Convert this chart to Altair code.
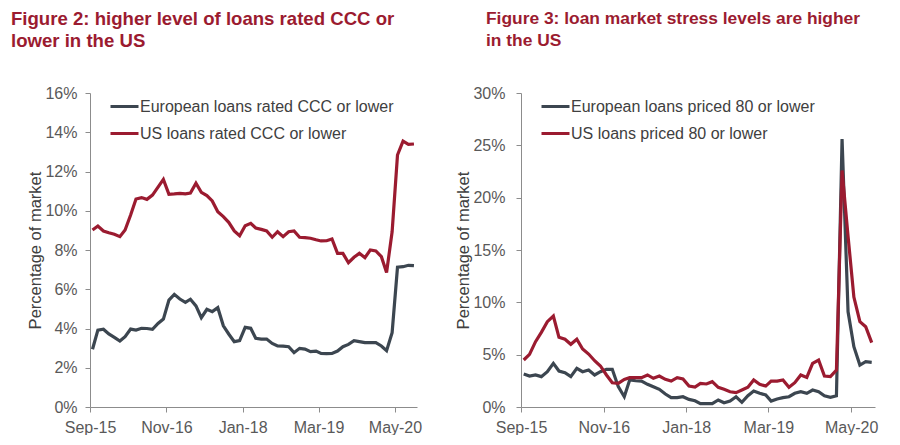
import altair as alt
import pandas as pd

RED = "#9B1B30"
GRAY = "#3C4650"
FONT = "Liberation Sans"

# monthly observations, Sep-2015 .. Aug-2020 (plotted mid-month)
months = [f"{2015 + (8 + k) // 12}-{(8 + k) % 12 + 1:02d}-15" for k in range(60)]

eu_ccc = [2.94, 3.92, 3.96, 3.72, 3.55, 3.36, 3.58, 3.97, 3.92, 4.01,
          4.00, 3.96, 4.26, 4.48, 5.45, 5.74, 5.50, 5.33, 5.49, 5.15,
          4.55, 4.98, 4.86, 5.06, 4.14, 3.72, 3.33, 3.38, 4.06, 4.01,
          3.50, 3.46, 3.46, 3.24, 3.11, 3.10, 3.07, 2.77, 2.99, 2.95,
          2.82, 2.85, 2.73, 2.72, 2.73, 2.85, 3.07, 3.19, 3.38, 3.33,
          3.28, 3.28, 3.28, 3.11, 2.87, 3.79, 7.12, 7.15, 7.22, 7.20]

us_ccc = [9.02, 9.22, 8.97, 8.88, 8.80, 8.68, 9.02, 9.78, 10.60, 10.67,
          10.58, 10.80, 11.20, 11.60, 10.84, 10.86, 10.89, 10.86, 10.90, 11.40,
          10.94, 10.77, 10.50, 9.95, 9.70, 9.41, 8.97, 8.73, 9.24, 9.36,
          9.12, 9.05, 8.97, 8.65, 8.93, 8.68, 8.93, 8.97, 8.65, 8.63,
          8.60, 8.52, 8.46, 8.47, 8.56, 7.83, 7.83, 7.35, 7.63, 7.83,
          7.61, 8.00, 7.95, 7.66, 6.85, 8.93, 12.84, 13.55, 13.38, 13.40]

eu_80 = [3.15, 2.96, 3.06, 2.90, 3.37, 4.17, 3.44, 3.28, 2.90, 3.70,
         3.37, 3.53, 3.06, 3.37, 3.60, 3.60, 1.94, 0.98, 2.58, 2.51,
         2.48, 2.17, 1.94, 1.69, 1.24, 0.89, 0.89, 0.98, 0.73, 0.60,
         0.32, 0.32, 0.32, 0.67, 0.41, 0.57, 0.98, 0.45, 1.08, 1.53,
         1.31, 1.15, 0.57, 0.76, 0.89, 0.98, 1.31, 1.46, 1.31, 1.62,
         1.46, 1.08, 0.93, 1.08, 25.60, 9.10, 5.76, 4.01, 4.33, 4.27]

us_80 = [4.49, 5.03, 6.24, 7.13, 8.15, 8.69, 6.66, 6.47, 5.99, 6.47,
         5.54, 5.06, 4.42, 3.92, 3.06, 2.32, 2.26, 2.64, 2.80, 2.80,
         2.80, 3.06, 2.74, 2.96, 2.64, 2.48, 2.80, 2.68, 2.00, 1.90,
         2.26, 2.20, 2.42, 1.88, 1.69, 1.46, 1.37, 1.62, 1.88, 2.58,
         2.17, 2.00, 2.48, 2.48, 2.58, 1.88, 2.32, 3.06, 2.83, 4.17,
         4.49, 2.96, 2.90, 3.53, 22.60, 16.30, 10.50, 8.15, 7.67, 6.15]

labels_ccc = ["European loans rated CCC or lower", "US loans rated CCC or lower"]
labels_80 = ["European loans priced 80 or lower", "US loans priced 80 or lower"]

tick_dates = [(2015, "Sep"), (2016, "Nov"), (2018, "Jan"), (2019, "Mar"), (2020, "May")]


def long_frame(eu, us, labels):
    return pd.DataFrame({
        "date": months + months,
        "value": eu + us,
        "series": [labels[0]] * len(eu) + [labels[1]] * len(us),
    })


def panel(df, labels, ymax, ystep, title_lines, width, title_dx, title_size,
          title_offset, label_pad, legend_x):
    x_axis = alt.Axis(
        values=[alt.DateTime(year=y, month=m, date=1, utc=True) for y, m in tick_dates],
        format="%b-%y", title=None, labelFontSize=16, labelColor="#595959",
        labelFont=FONT, tickSize=5, labelPadding=7, labelOverlap=False,
        labelFlush=False, domainColor="#8C8C8C", tickColor="#8C8C8C", grid=False,
    )
    y_axis = alt.Axis(
        values=list(range(0, ymax + 1, ystep)), labelExpr="datum.value + '%'",
        title="Percentage of market", titleFontSize=16.5, titleFont=FONT,
        titleFontWeight="normal", titleColor="#404040", titlePadding=1,
        labelFontSize=16, labelColor="#595959", labelFont=FONT,
        labelPadding=label_pad, tickSize=5, domainColor="#8C8C8C",
        tickColor="#8C8C8C", grid=False,
    )
    legend = alt.Legend(
        orient="none", legendX=legend_x, legendY=-2, title=None,
        symbolType="stroke", symbolSize=784, symbolStrokeWidth=3,
        labelFontSize=16, labelFont=FONT, labelColor="#404040",
        labelOffset=0, rowPadding=3, padding=0, labelLimit=400,
    )
    return alt.Chart(df).mark_line(strokeWidth=3.2).encode(
        x=alt.X("date:T", axis=x_axis,
                scale=alt.Scale(type="utc", domain=[
                    alt.DateTime(year=2015, month="Sep", date=1, utc=True),
                    alt.DateTime(year=2020, month="Sep", date=1, utc=True)])),
        y=alt.Y("value:Q", axis=y_axis, scale=alt.Scale(domain=[0, ymax], nice=False)),
        color=alt.Color("series:N", legend=legend,
                        scale=alt.Scale(domain=labels, range=[GRAY, RED])),
    ).properties(
        width=width, height=314,
        title=alt.TitleParams(
            text=title_lines, anchor="start", frame="bounds", dx=title_dx,
            fontSize=title_size, font=FONT, fontWeight="bold", color=RED,
            lineHeight=22, offset=title_offset,
        ),
    )


left = panel(long_frame(eu_ccc, us_ccc, labels_ccc), labels_ccc, 16, 2,
             ["Figure 2: higher level of loans rated CCC or", "lower in the US"],
             327, -17, 18.6, 34, 8, 19)
right = panel(long_frame(eu_80, us_80, labels_80), labels_80, 30, 5,
              ["Figure 3: loan market stress levels are higher", "in the US"],
              354, 30, 17.4, 36, 11, 19)

chart = alt.hconcat(left, right, spacing=33).resolve_scale(
    color="independent").resolve_legend(color="independent").properties(
    padding={"left": 2, "top": 1, "right": 0, "bottom": 0}
).configure_view(stroke=None)

chart.save("out.html", embed_options={"renderer": "svg", "actions": False})
